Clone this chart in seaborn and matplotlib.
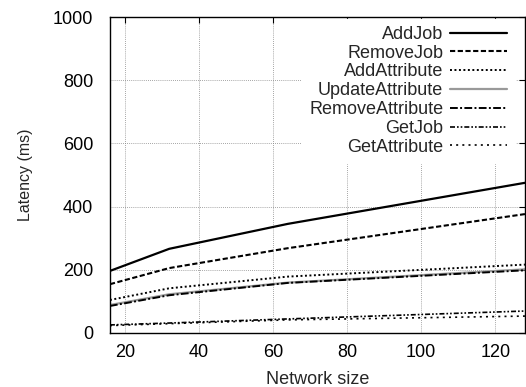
import pandas as pd
import matplotlib
matplotlib.use('Agg')
import matplotlib.pyplot as plt
import seaborn as sns

network_size = [16, 32, 64, 128]
add_job = [196, 266, 345, 475]
remove_job = [154, 205, 268, 376]
add_attribute = [104, 141, 178, 216]
update_attribute = [88, 122, 159, 201]
remove_attribute = [85, 119, 158, 198]
get_job = [25, 31, 44, 69]
get_attribute = [23, 29, 41, 53]

series = ['AddJob', 'RemoveJob', 'AddAttribute', 'UpdateAttribute',
          'RemoveAttribute', 'GetJob', 'GetAttribute']
values = [add_job, remove_job, add_attribute, update_attribute,
          remove_attribute, get_job, get_attribute]

rows = []
for name, vals in zip(series, values):
    for n, v in zip(network_size, vals):
        rows.append({'Network size': n, 'Latency (ms)': v, 'op': name})
data = pd.DataFrame(rows)

sns.set_style('white')
plt.rcParams['font.family'] = ['Liberation Sans', 'DejaVu Sans']

# gnuplot-ish line types
styles = {
    'AddJob': dict(color='black', lw=1.6, ls='-'),
    'RemoveJob': dict(color='black', lw=1.5, ls=(0, (2.5, 1.2))),
    'AddAttribute': dict(color='black', lw=1.4, ls=(0, (1, 1.3))),
    'UpdateAttribute': dict(color='#999999', lw=1.6, ls='-'),
    'RemoveAttribute': dict(color='black', lw=1.4, ls=(0, (4, 1.2, 1, 1.2))),
    'GetJob': dict(color='black', lw=1.2, ls=(0, (3, 1.2, 1, 1.2, 1, 1.2))),
    'GetAttribute': dict(color='black', lw=1.2, ls=(0, (1.2, 2.5))),
}

fig = plt.figure(figsize=(5.26, 3.87), dpi=100)
ax = fig.add_axes([0.209, 0.14, 0.789, 0.816])

for name in series:
    sub = data[data.op == name]
    sns.lineplot(x='Network size', y='Latency (ms)', data=sub, ax=ax,
                 label=name, **styles[name])

ax.set_xlim(16, 128)
ax.set_ylim(0, 1000)
ax.set_xticks([20, 40, 60, 80, 100, 120])
ax.set_yticks([0, 200, 400, 600, 800, 1000])
ax.tick_params(axis='both', direction='in', length=4, width=0.8, top=True,
               right=True, labelsize=13, colors='black')
ax.tick_params(axis='y', pad=12)
ax.tick_params(axis='x', pad=8)
ax.grid(True, color='#888888', ls=(0, (1, 1.5)), lw=0.6)
for sp in ax.spines.values():
    sp.set_color('black')
    sp.set_linewidth(1.0)
ax.set_xlabel('Network size', fontsize=13, labelpad=7)
ax.set_ylabel('Latency (ms)', fontsize=11.5, labelpad=14)

leg = ax.legend(loc='upper right', bbox_to_anchor=(0.975, 0.995),
                markerfirst=False, frameon=True, fontsize=13,
                handlelength=3.2, labelspacing=0.1, borderpad=0.4,
                borderaxespad=0.0, handletextpad=0.35)
leg.get_frame().set_facecolor('white')
leg.get_frame().set_edgecolor('white')
leg.get_frame().set_alpha(1)
leg.get_frame().set_boxstyle('square', pad=0)
leg._legend_box.align = 'right'
leg.set_zorder(2.4)

fig.savefig('out.png', dpi=100)
